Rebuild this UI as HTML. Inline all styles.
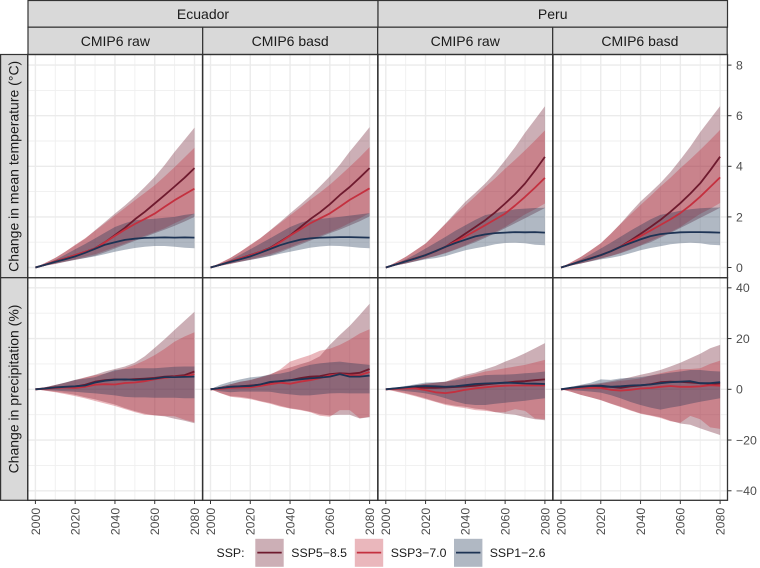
<!DOCTYPE html>
<html><head><meta charset="utf-8"><title>Climate projections</title>
<style>html,body{margin:0;padding:0;background:#fff}svg{display:block;font-family:"Liberation Sans",Arial,sans-serif}</style></head>
<body>
<svg id="chart" xmlns="http://www.w3.org/2000/svg" width="760" height="568" viewBox="0 0 760 568"></svg>
<script>
const years=[2000,2005,2010,2015,2020,2025,2030,2035,2040,2045,2050,2055,2060,2065,2070,2075,2080];
const xTicks=[2000,2020,2040,2060,2080];
const xMinor=[2010,2030,2050,2070];
const tempTicks=[0,2,4,6,8];
const tempMinor=[1,3,5,7];
const precipTicks=[-40,-20,0,20,40];
const precipMinor=[-30,-10,10,30];
const scenarioNames=['SSP5−8.5','SSP3−7.0','SSP1−2.6'];

// Temperature, Ecuador raw
const tEcRaw585Lo=[0,.07,.14,.22,.3,.38,.47,.6,.75,.9,1.05,1.2,1.35,1.5,1.65,1.82,2.0];
const tEcRaw585Md=[0,.11,.24,.36,.49,.62,.76,1.0,1.28,1.57,1.9,2.2,2.53,2.86,3.2,3.55,3.93];
const tEcRaw585Hi=[0,.18,.38,.62,.88,1.14,1.47,1.8,2.13,2.45,2.8,3.18,3.58,4.05,4.57,5.05,5.53];
const tEcRaw370Lo=[0,.07,.15,.24,.33,.43,.52,.66,.8,.95,1.1,1.25,1.4,1.55,1.75,1.93,2.13];
const tEcRaw370Md=[0,.11,.24,.36,.49,.62,.75,1.0,1.25,1.5,1.72,1.92,2.13,2.4,2.66,2.89,3.12];
const tEcRaw370Hi=[0,.18,.38,.62,.9,1.16,1.45,1.75,2.05,2.35,2.66,2.95,3.25,3.6,3.97,4.35,4.74];
const tEcRaw126Lo=[0,.08,.16,.23,.31,.37,.44,.53,.62,.7,.77,.82,.85,.85,.82,.78,.76];
const tEcRaw126Md=[0,.11,.22,.33,.44,.58,.74,.9,1.0,1.09,1.14,1.17,1.18,1.19,1.18,1.19,1.18];
const tEcRaw126Hi=[0,.14,.3,.5,.72,.93,1.15,1.38,1.6,1.75,1.87,1.9,1.93,1.97,2.0,2.08,2.13];
// Temperature, Ecuador basd
const tEcBas585Lo=[0,.07,.14,.22,.3,.38,.47,.6,.76,.9,1.06,1.2,1.35,1.5,1.66,1.83,2.02];
const tEcBas585Md=[0,.11,.23,.36,.49,.62,.78,1.02,1.27,1.58,1.9,2.18,2.5,2.86,3.18,3.55,3.93];
const tEcBas585Hi=[0,.18,.38,.62,.88,1.15,1.47,1.8,2.14,2.47,2.82,3.2,3.6,4.06,4.58,5.06,5.55];
const tEcBas370Lo=[0,.07,.15,.24,.33,.43,.53,.66,.8,.96,1.1,1.25,1.4,1.56,1.76,1.94,2.15];
const tEcBas370Md=[0,.11,.24,.36,.48,.62,.76,1.0,1.26,1.5,1.74,1.94,2.14,2.4,2.67,2.9,3.13];
const tEcBas370Hi=[0,.18,.38,.62,.9,1.16,1.46,1.76,2.06,2.36,2.67,2.96,3.27,3.62,3.98,4.36,4.76];
const tEcBas126Lo=[0,.08,.16,.23,.3,.37,.45,.54,.62,.7,.78,.83,.86,.85,.82,.78,.76];
const tEcBas126Md=[0,.11,.22,.33,.44,.58,.73,.88,1.0,1.1,1.15,1.18,1.19,1.2,1.2,1.19,1.18];
const tEcBas126Hi=[0,.14,.3,.5,.72,.94,1.16,1.38,1.6,1.76,1.88,1.92,1.96,2.0,2.05,2.1,2.15];
// Temperature, Peru raw
const tPeRaw585Lo=[0,.08,.16,.25,.35,.45,.56,.7,.85,1.0,1.17,1.35,1.55,1.75,1.95,2.15,2.35];
const tPeRaw585Md=[0,.12,.25,.37,.49,.64,.82,1.07,1.34,1.6,1.87,2.18,2.53,2.9,3.32,3.83,4.37];
const tPeRaw585Hi=[0,.2,.42,.68,.95,1.33,1.74,2.17,2.6,2.95,3.32,3.75,4.24,4.76,5.33,5.85,6.37];
const tPeRaw370Lo=[0,.08,.16,.26,.36,.46,.58,.72,.88,1.05,1.22,1.4,1.6,1.85,2.1,2.3,2.53];
const tPeRaw370Md=[0,.12,.25,.37,.49,.65,.82,1.02,1.23,1.45,1.67,1.9,2.13,2.45,2.79,3.16,3.54];
const tPeRaw370Hi=[0,.2,.42,.68,.95,1.33,1.72,2.1,2.46,2.82,3.18,3.53,3.9,4.26,4.63,5.02,5.42];
const tPeRaw126Lo=[0,.08,.16,.24,.32,.37,.45,.57,.68,.76,.83,.92,.97,.98,.96,.9,.88];
const tPeRaw126Md=[0,.12,.24,.36,.49,.65,.82,.97,1.1,1.23,1.31,1.36,1.38,1.4,1.39,1.4,1.38];
const tPeRaw126Hi=[0,.15,.32,.52,.75,.98,1.21,1.45,1.67,1.88,2.07,2.15,2.22,2.3,2.33,2.35,2.36];
// Temperature, Peru basd
const tPeBas585Lo=[0,.08,.16,.25,.35,.45,.56,.7,.86,1.0,1.18,1.36,1.56,1.76,1.96,2.16,2.36];
const tPeBas585Md=[0,.12,.25,.37,.49,.64,.83,1.07,1.33,1.6,1.88,2.2,2.54,2.92,3.33,3.84,4.38];
const tPeBas585Hi=[0,.2,.42,.68,.96,1.33,1.74,2.18,2.61,2.97,3.34,3.77,4.26,4.78,5.35,5.87,6.38];
const tPeBas370Lo=[0,.08,.16,.26,.36,.46,.58,.73,.88,1.06,1.22,1.4,1.6,1.86,2.12,2.32,2.55];
const tPeBas370Md=[0,.12,.25,.37,.49,.64,.82,1.03,1.24,1.46,1.68,1.9,2.15,2.46,2.8,3.18,3.56];
const tPeBas370Hi=[0,.2,.42,.68,.96,1.33,1.73,2.1,2.47,2.83,3.2,3.55,3.92,4.28,4.65,5.04,5.44];
const tPeBas126Lo=[0,.08,.16,.24,.32,.38,.46,.57,.68,.77,.84,.92,.96,.98,.96,.9,.88];
const tPeBas126Md=[0,.12,.24,.36,.49,.64,.82,.97,1.11,1.24,1.32,1.36,1.39,1.4,1.4,1.39,1.38];
const tPeBas126Hi=[0,.15,.32,.52,.75,.98,1.22,1.46,1.68,1.9,2.08,2.16,2.24,2.3,2.34,2.36,2.37];
// Precipitation, Ecuador raw
const pEcRaw585Lo=[0,-.5,-1,-1.5,-2.2,-3.1,-4,-5,-6,-7.4,-8.6,-9.6,-10.3,-10.7,-11.6,-12.4,-13.4];
const pEcRaw585Md=[0,.4,.8,.9,1.1,1.8,3,3.6,3.9,3.8,4,4.2,4.5,5,5.2,5.6,7];
const pEcRaw585Hi=[0,.8,1.7,2.6,3.7,4.7,5.7,7,8,9,10.5,13,16.3,19.8,23.4,27,30.6];
const pEcRaw370Lo=[0,-.6,-1.2,-1.9,-2.7,-3.6,-4.6,-5.6,-6.6,-7.8,-9,-10,-10.3,-10.5,-10.6,-12,-13];
const pEcRaw370Md=[0,.2,.5,.7,.5,1,1.8,2,1.9,2.5,2.7,3.2,4,4.5,5,5,6];
const pEcRaw370Hi=[0,.8,1.7,2.6,3.6,4.6,5.5,6.2,7.2,8.3,9.6,11.4,13.5,16,18.8,20.8,22.5];
const pEcRaw126Lo=[0,-.3,-.5,-.8,-1,-1.3,-1.6,-2,-2.4,-3,-3.2,-3.2,-3.3,-3.3,-3.3,-3.5,-3.5];
const pEcRaw126Md=[0,.3,.7,1,1.2,1.5,2.7,3.4,3.8,3.9,3.7,3.9,4.2,4.8,4.8,4.9,5];
const pEcRaw126Hi=[0,.8,1.7,2.7,3.7,4.2,4.8,6.2,7.6,8,8.3,8.3,8.3,8.6,8.9,9,9];
// Precipitation, Ecuador basd
const pEcBas585Lo=[0,-1.5,-2.7,-3,-3.6,-4.6,-5.4,-6.5,-7.5,-8,-8.8,-9.8,-10.3,-10,-10,-11.5,-11];
const pEcBas585Md=[0,.5,1,1.2,1.5,1.8,2.7,3.2,3.6,4.4,5,5.2,6,6.3,6.1,6.5,8];
const pEcBas585Hi=[0,1,2,3,3.6,4.8,6,7.4,8.6,9.8,11,13,17.5,21.4,25,29.3,33.7];
const pEcBas370Lo=[0,-1.5,-2.9,-3.4,-3.9,-4.8,-5.7,-6.8,-7.6,-8.2,-9,-10.4,-10.8,-8.2,-8.2,-11.4,-10.8];
const pEcBas370Md=[0,.2,.6,.7,.8,1.3,2,2.6,2.2,3,3.6,4.4,5.5,6,5.5,5.6,6.8];
const pEcBas370Hi=[0,1,2,3,3.7,4.6,5.7,7.8,10.9,12.2,13.5,15.2,16,17.5,19.5,22,23.7];
const pEcBas126Lo=[0,-.8,-1.2,-.9,-.9,-.9,-1,-1.6,-2,-2.4,-2.4,-2,-1.6,-1.5,-1.6,-1.6,-1.6];
const pEcBas126Md=[0,.5,1,1.2,1.3,1.9,2.9,3.2,3.6,3.9,4.3,4.6,5,6,5,5,5.4];
const pEcBas126Hi=[0,1.8,3,3.9,4.7,5.1,5.7,6.2,7,8.6,9.6,10.2,10.6,10.9,10.4,10,9.6];
// Precipitation, Peru raw
const pPeRaw585Lo=[0,-.7,-1.5,-2.5,-3.6,-4.8,-5.8,-6.5,-6.9,-7.6,-8,-9,-9.6,-10,-11,-11.8,-12.2];
const pPeRaw585Md=[0,.3,.6,.7,.6,.6,.7,.9,1.1,1.4,1.9,2.3,2.6,3,3.2,3.6,3.9];
const pPeRaw585Hi=[0,.5,1,1.6,2.2,2.6,3,4.4,5.7,6.6,7.9,9.2,10.9,12.4,14.2,16.2,18.2];
const pPeRaw370Lo=[0,-.9,-1.8,-2.8,-3.9,-5,-6.2,-6.9,-7.5,-8.2,-8.5,-9,-9,-7.8,-8.5,-11.5,-11.8];
const pPeRaw370Md=[0,.1,.4,.3,-.3,-1.2,-1.5,-1,-.2,.4,.8,1.2,1.4,1.5,1.5,1.5,1.5];
const pPeRaw370Hi=[0,.5,1,1.6,2.2,2.6,3,4,5,6,7,7.6,8.3,9,9.6,10.6,11.6];
const pPeRaw126Lo=[0,-.3,-.7,-1.1,-1.6,-2.4,-3.5,-4.8,-5.8,-6.2,-6.2,-5.7,-5.3,-4.9,-4.5,-4,-3.5];
const pPeRaw126Md=[0,.4,.8,1.2,1.3,1.2,1,1.2,1.6,2.1,2.3,2.4,2.6,2.5,2.3,2.2,2.1];
const pPeRaw126Hi=[0,.6,1.3,2,2.7,2.8,3,3.6,4.3,5,5.6,5.7,5.8,6,6.3,6.6,7];
// Precipitation, Peru basd
const pPeBas585Lo=[0,-1,-2.2,-3.2,-4.2,-5.6,-6.8,-8.2,-9.5,-10.2,-11,-12.4,-13.5,-14,-15.4,-16.7,-18];
const pPeBas585Md=[0,.3,.7,1.2,1,1,.6,1.2,1.5,2,2.8,3,2.9,2.7,2.4,2.2,2.3];
const pPeBas585Hi=[0,.9,1.6,2,2.5,3.2,3.9,4.8,5.7,6.6,7.6,9,10.5,12.2,14,16.2,17.5];
const pPeBas370Lo=[0,-1,-2.2,-3.2,-4.3,-5.7,-7,-8.4,-9.6,-10.4,-11.3,-12.6,-13.2,-10.5,-11.8,-15,-15.6];
const pPeBas370Md=[0,.3,.6,.6,.5,-.2,-.5,-.2,.3,.5,1,1.3,1,1,1.2,1.6,1.4];
const pPeBas370Hi=[0,.8,1.4,1.8,2.2,2.8,3.3,3.8,4.3,5.4,6.3,7.2,7.9,8,8.3,10,11.3];
const pPeBas126Lo=[0,-.4,-.6,-.9,-1.3,-2.3,-3.6,-5,-6.2,-7.2,-8,-7.2,-6.6,-5.7,-4.9,-4.2,-3.5];
const pPeBas126Md=[0,.6,1,1.3,1.4,1,1.2,1.5,1.6,1.9,2.4,2.8,3,3.2,2.4,2.4,2.8];
const pPeBas126Hi=[0,.9,1.8,2.6,3.9,3.7,4.3,4.5,4.8,5.4,6,6.6,7,7.6,7.6,7.2,7];

const colors=['#6e1a2e','#c4303f','#1d3354'];
const svg=document.getElementById('chart');
const NS='http://www.w3.org/2000/svg';
function mk(tag,attrs,parent){
  const e=document.createElementNS(NS,tag);
  for(const k in attrs)e.setAttribute(k,attrs[k]);
  (parent||svg).appendChild(e);
  return e;
}
const panelLeft=[28,203,378,553];
const panelRight=[202.5,378,553,727.5];
const panelOrigin=[35.4,210.5,385.8,561];
const panelSpan=159.1;
function xScale(p,year){return panelOrigin[p]+(year-2000)/80*panelSpan;}
function yTemp(v){return 267.5-v*25.3;}
function yPrecip(v){return 389.3-v*2.537;}
const rowTop=[55,278];
const rowBottom=[277.5,500.3];
const rowScale=[yTemp,yPrecip];
const rowMajor=[tempTicks,precipTicks];
const rowMinor=[tempMinor,precipMinor];
const rowKey=['temperature','precipitation'];
const panelKey=['ecuador-raw','ecuador-basd','peru-raw','peru-basd'];

const panelData=[
 [[[tEcRaw585Lo,tEcRaw585Md,tEcRaw585Hi],[tEcRaw370Lo,tEcRaw370Md,tEcRaw370Hi],[tEcRaw126Lo,tEcRaw126Md,tEcRaw126Hi]],
  [[tEcBas585Lo,tEcBas585Md,tEcBas585Hi],[tEcBas370Lo,tEcBas370Md,tEcBas370Hi],[tEcBas126Lo,tEcBas126Md,tEcBas126Hi]],
  [[tPeRaw585Lo,tPeRaw585Md,tPeRaw585Hi],[tPeRaw370Lo,tPeRaw370Md,tPeRaw370Hi],[tPeRaw126Lo,tPeRaw126Md,tPeRaw126Hi]],
  [[tPeBas585Lo,tPeBas585Md,tPeBas585Hi],[tPeBas370Lo,tPeBas370Md,tPeBas370Hi],[tPeBas126Lo,tPeBas126Md,tPeBas126Hi]]],
 [[[pEcRaw585Lo,pEcRaw585Md,pEcRaw585Hi],[pEcRaw370Lo,pEcRaw370Md,pEcRaw370Hi],[pEcRaw126Lo,pEcRaw126Md,pEcRaw126Hi]],
  [[pEcBas585Lo,pEcBas585Md,pEcBas585Hi],[pEcBas370Lo,pEcBas370Md,pEcBas370Hi],[pEcBas126Lo,pEcBas126Md,pEcBas126Hi]],
  [[pPeRaw585Lo,pPeRaw585Md,pPeRaw585Hi],[pPeRaw370Lo,pPeRaw370Md,pPeRaw370Hi],[pPeRaw126Lo,pPeRaw126Md,pPeRaw126Hi]],
  [[pPeBas585Lo,pPeBas585Md,pPeBas585Hi],[pPeBas370Lo,pPeBas370Md,pPeBas370Hi],[pPeBas126Lo,pPeBas126Md,pPeBas126Hi]]]
];

// panels: grid and series
for(let r=0;r<2;r++){
  for(let p=0;p<4;p++){
    const g=mk('g',{});
    
    
    const L=panelLeft[p],R=panelRight[p],T=rowTop[r],B=rowBottom[r];
    for(const v of rowMinor[r]){
      const y=rowScale[r](v);
      const l=mk('line',{x1:L,x2:R,y1:y,y2:y,stroke:'#efefef','stroke-width':0.9},g);
      
      
    }
    for(const v of xMinor){
      const x=xScale(p,v);
      const l=mk('line',{x1:x,x2:x,y1:T,y2:B,stroke:'#efefef','stroke-width':0.9},g);
      
      
    }
    for(const v of rowMajor[r]){
      const y=rowScale[r](v);
      const l=mk('line',{x1:L,x2:R,y1:y,y2:y,stroke:'#ebebeb','stroke-width':1.4},g);
      
      
    }
    for(const v of xTicks){
      const x=xScale(p,v);
      const l=mk('line',{x1:x,x2:x,y1:T,y2:B,stroke:'#ebebeb','stroke-width':1.4},g);
      
      
    }
    const sets=panelData[r][p];
    for(let s=0;s<3;s++){
      const lo=sets[s][0],hi=sets[s][2];
      const pts=[];
      years.forEach((yr,i)=>pts.push(xScale(p,yr).toFixed(1)+','+rowScale[r](hi[i]).toFixed(1)));
      for(let i=years.length-1;i>=0;i--)pts.push(xScale(p,years[i]).toFixed(1)+','+rowScale[r](lo[i]).toFixed(1));
      const band=mk('polygon',{points:pts.join(' '),fill:colors[s],'fill-opacity':0.35,stroke:'none'},g);
      
      
    }
    for(let s=0;s<3;s++){
      const md=sets[s][1];
      const pts=years.map((yr,i)=>xScale(p,yr).toFixed(1)+','+rowScale[r](md[i]).toFixed(1)).join(' ');
      const line=mk('polyline',{points:pts,fill:'none',stroke:colors[s],'stroke-width':1.8,'stroke-linejoin':'round'},g);
      
      
    }
  }
}

const DARK='#333333';
function stripRect(x,y,w,h,name){
  const e=mk('rect',{x:x,y:y,width:w,height:h,fill:'#d9d9d9',stroke:DARK,'stroke-width':1.2});
  
  
}
function stripText(x,y,t,name,rot){
  const a={x:x,y:y,'font-size':14,fill:'#1a1a1a','text-anchor':'middle'};
  if(rot)a.transform='rotate(-90 '+x+' '+y+')';
  const e=mk('text',a);
  e.textContent=t;
  
  
}
// top strips
stripRect(28,0.5,350,26.7,'strip-ecuador');
stripRect(378,0.5,349.5,26.7,'strip-peru');
stripText(203,19,'Ecuador','strip-label-ecuador');
stripText(552.7,19,'Peru','strip-label-peru');
const subLabels=['CMIP6 raw','CMIP6 basd','CMIP6 raw','CMIP6 basd'];
for(let p=0;p<4;p++){
  const w=[174.7,175,175,174.5][p];
  const x=[28,202.7,377.7,552.7][p];
  stripRect(x,27.2,w,27.3,'strip-'+panelKey[p]);
  stripText(x+w/2,46,subLabels[p],'strip-label-'+panelKey[p]);
}
// left strips
stripRect(0.6,54.5,27.2,223.2,'strip-temperature');
stripRect(0.6,277.7,27.2,222.6,'strip-precipitation');
stripText(18.7,166.3,'Change in mean temperature (°C)','y-axis-title-temperature',true);
stripText(18.7,389,'Change in precipitation (%)','y-axis-title-precipitation',true);

// panel borders
for(let p=0;p<4;p++){
  const b=mk('rect',{x:panelLeft[p]-0.3,y:54.5,width:panelRight[p]-panelLeft[p]+0.3,height:223.2,fill:'none',stroke:DARK,'stroke-width':1.3});
  
  
  const c=mk('rect',{x:panelLeft[p]-0.3,y:277.7,width:panelRight[p]-panelLeft[p]+0.3,height:222.6,fill:'none',stroke:DARK,'stroke-width':1.3});
  
  
}
// x axis
for(let p=0;p<4;p++){
  for(const v of xTicks){
    const x=xScale(p,v);
    const t=mk('line',{x1:x,x2:x,y1:500.3,y2:504,stroke:DARK,'stroke-width':1});
    
    
    const lx=x+4.4;
    const lab=mk('text',{x:lx,y:507.8,'font-size':12.3,fill:'#4d4d4d','text-anchor':'end',transform:'rotate(-90 '+lx+' 507.8)'});
    lab.textContent=String(v);
    
    
  }
}
// y axes on right
for(let r=0;r<2;r++){
  for(const v of rowMajor[r]){
    const y=rowScale[r](v);
    const t=mk('line',{x1:727.5,x2:731.5,y1:y,y2:y,stroke:DARK,'stroke-width':1});
    
    
    const lab=mk('text',{x:736,y:y+4.4,'font-size':12.3,fill:'#4d4d4d'});
    lab.textContent=(v<0?'−':'')+Math.abs(v);
    
    
  }
}
// legend
const legendTitle=mk('text',{x:216.5,y:557,'font-size':12.3,fill:'#1a1a1a'});
legendTitle.textContent='SSP:';


const swatchX=[255.3,354.8,454];
const labelX=[291.3,390.7,489.7];
for(let s=0;s<3;s++){
  const g=mk('g',{});
  
  
  mk('rect',{x:swatchX[s],y:538.8,width:28.4,height:28,fill:colors[s],'fill-opacity':0.35},g);
  mk('line',{x1:swatchX[s]+2,x2:swatchX[s]+26.4,y1:552.6,y2:552.6,stroke:colors[s],'stroke-width':1.8},g);
  const t=mk('text',{x:labelX[s],y:557,'font-size':12.3,fill:'#1a1a1a'},g);
  t.textContent=scenarioNames[s];
}
</script>
</body></html>
